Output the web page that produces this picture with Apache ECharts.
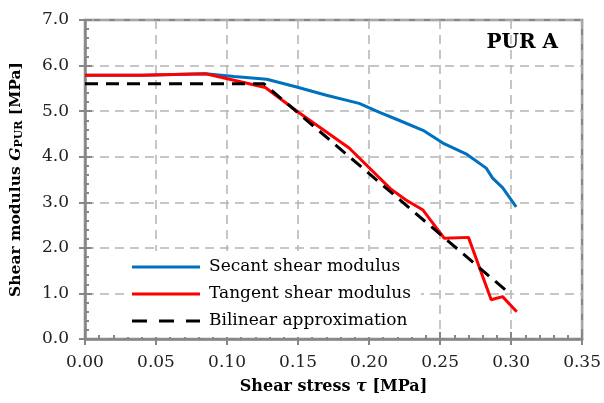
<!DOCTYPE html>
<html>
<head>
<meta charset="utf-8">
<script src="https://cdn.jsdelivr.net/npm/echarts@6/dist/echarts.min.js"></script>
<style>
  html, body { margin: 0; padding: 0; background: #fff; }
  #chart { width: 604px; height: 403px; }
</style>
</head>
<body>
<div id="chart"></div>
<script>
// shear stress [MPa] / shear modulus [MPa]
const secantX = [0, 0.04, 0.085, 0.105, 0.128, 0.149, 0.170, 0.193, 0.207, 0.221, 0.238, 0.252, 0.269, 0.2825, 0.287, 0.294, 0.3036];
const secantY = [5.79, 5.79, 5.82, 5.76, 5.70, 5.53, 5.35, 5.17, 4.98, 4.80, 4.58, 4.30, 4.05, 3.75, 3.53, 3.32, 2.90];
const tangentX = [0, 0.04, 0.085, 0.127, 0.150, 0.186, 0.215, 0.226, 0.238, 0.253, 0.270, 0.286, 0.294, 0.304];
const tangentY = [5.79, 5.79, 5.82, 5.52, 4.98, 4.19, 3.30, 3.05, 2.83, 2.21, 2.23, 0.86, 0.93, 0.60];
const bilinearX = [0, 0.126, 0.297];
const bilinearY = [5.6, 5.6, 1.05];

const seriesNames = ['Secant shear modulus', 'Tangent shear modulus', 'Bilinear approximation'];

const serif = '"DejaVu Serif", "Liberation Serif", serif';
const axisGray = '#878787';

// legend icons: solid and dashed strokes
const solidIcon = 'path://M0,0H68V3H0Z';
const dashIcon = 'path://M0,0H15V3H0Z M27,0H42V3H27Z M54,0H68V3H54Z';

function pairs(xs, ys) {
  return xs.map((x, i) => [x, ys[i]]);
}

const chart = echarts.init(document.getElementById('chart'));

// axis 0: labels + outward ticks, axis 1: inward ticks + minor ticks
const xBase = { type: 'value', min: 0, max: 0.35, interval: 0.05, position: 'bottom' };
const yBase = { type: 'value', min: 0, max: 7, interval: 1, position: 'left' };

chart.setOption({
  animation: false,
  grid: {
    left: 85, right: 21, top: 20, bottom: 64,
    show: true, borderColor: axisGray, borderWidth: 2.5, backgroundColor: '#fff'
  },
  legend: {
    orient: 'vertical',
    left: 124, top: 251,
    padding: [6, 10, 6, 8],
    backgroundColor: '#fff',
    itemWidth: 68, itemHeight: 3, itemGap: 7,
    textStyle: { fontFamily: serif, fontSize: 17, color: '#000', lineHeight: 20, padding: [0, 0, 0, 4] },
    data: [
      { name: seriesNames[0], icon: solidIcon },
      { name: seriesNames[1], icon: solidIcon },
      { name: seriesNames[2], icon: dashIcon }
    ]
  },
  graphic: [{
    type: 'text', right: 46, top: 33,
    style: { text: 'PUR A', font: 'bold 20px ' + serif, fill: '#000' }
  }],
  xAxis: [
    Object.assign({}, xBase, {
      name: '{b|Shear stress }{bi|τ}{b| [MPa]}',
      nameLocation: 'middle', nameGap: 40,
      nameTextStyle: {
        rich: {
          b: { fontFamily: serif, fontSize: 16, fontWeight: 'bold', color: '#000' },
          bi: { fontFamily: serif, fontSize: 16, fontWeight: 'bold', fontStyle: 'italic', color: '#000' }
        }
      },
      axisLine: { lineStyle: { color: axisGray, width: 2.5 } },
      axisTick: { show: true, length: 6, lineStyle: { color: axisGray, width: 2 } },
      axisLabel: {
        fontFamily: serif, fontSize: 17, color: '#222', margin: 15,
        formatter: v => v.toFixed(2)
      },
      splitLine: { show: true, lineStyle: { color: '#b4b4b4', width: 1.5, type: [9, 6] } }
    }),
    Object.assign({}, xBase, {
      axisLine: { show: false },
      axisTick: { show: true, inside: true, length: 7, lineStyle: { color: axisGray, width: 2 } },
      minorTick: { show: true, splitNumber: 5, length: 4, lineStyle: { color: axisGray, width: 2 } },
      axisLabel: { show: false },
      splitLine: { show: false }
    })
  ],
  yAxis: [
    Object.assign({}, yBase, {
      name: '{b|Shear modulus }{bi|G}{sub|PUR}{b| [MPa]}',
      nameLocation: 'middle', nameGap: 60,
      nameTextStyle: {
        rich: {
          b: { fontFamily: serif, fontSize: 15.5, fontWeight: 'bold', color: '#000' },
          bi: { fontFamily: serif, fontSize: 15.5, fontWeight: 'bold', fontStyle: 'italic', color: '#000' },
          sub: { fontFamily: serif, fontSize: 11, fontWeight: 'bold', color: '#000', padding: [7, 0, 0, 0] }
        }
      },
      axisLine: { show: true, lineStyle: { color: axisGray, width: 2.5 } },
      axisTick: { show: true, length: 6, lineStyle: { color: axisGray, width: 2 } },
      axisLabel: {
        fontFamily: serif, fontSize: 17, color: '#222', margin: 16,
        formatter: v => v.toFixed(1)
      },
      splitLine: { show: true, lineStyle: { color: '#b4b4b4', width: 1.5, type: [9, 6] } }
    }),
    Object.assign({}, yBase, {
      axisLine: { show: false },
      axisTick: { show: true, inside: true, length: 7, lineStyle: { color: axisGray, width: 2 } },
      minorTick: { show: true, splitNumber: 5, length: 4, lineStyle: { color: axisGray, width: 2 } },
      axisLabel: { show: false },
      splitLine: { show: false }
    })
  ],
  series: [
    {
      name: seriesNames[0], type: 'line', symbol: 'none',
      data: pairs(secantX, secantY),
      lineStyle: { color: '#0070c0', width: 3 }, itemStyle: { color: '#0070c0' }
    },
    {
      name: seriesNames[1], type: 'line', symbol: 'none',
      data: pairs(tangentX, tangentY),
      lineStyle: { color: '#ff0000', width: 3 }, itemStyle: { color: '#ff0000' }
    },
    {
      name: seriesNames[2], type: 'line', symbol: 'none',
      data: pairs(bilinearX, bilinearY),
      lineStyle: { color: '#000', width: 3, type: [13, 8] }, itemStyle: { color: '#000' }
    }
  ]
});
</script>
</body>
</html>
